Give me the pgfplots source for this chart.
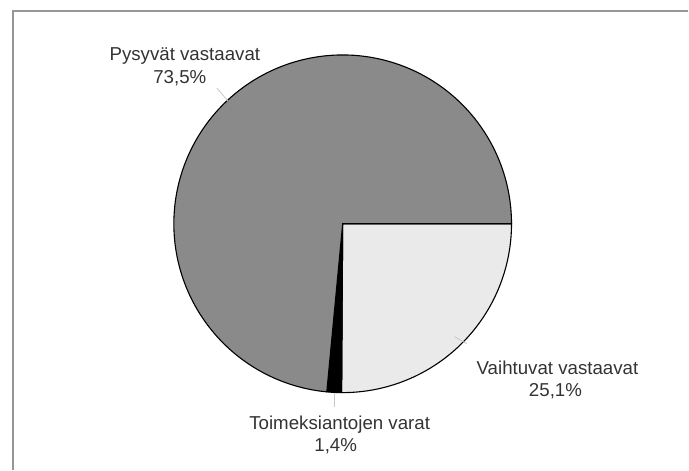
\documentclass[border=0pt]{standalone}
\usepackage{pgfplots}
\pgfplotsset{compat=1.18}
\usepackage{fontspec}
\setmainfont{Liberation Sans}
\definecolor{darkslice}{RGB}{138,138,138}
\definecolor{lightslice}{RGB}{234,234,234}
\definecolor{framec}{RGB}{150,150,150}
\definecolor{leader}{RGB}{200,200,200}
\tikzset{lbl/.style={anchor=base, text=black!80, inner sep=0pt, font=\fontsize{18.7bp}{22.5bp}\selectfont}}
% data (percent)
\def\vVaihtuvat{25.1}
\def\vToimeksianto{1.4}
\def\vPysyvat{73.5}
\begin{document}
\begin{tikzpicture}
\pgfmathsetmacro{\aA}{0}
\pgfmathsetmacro{\aB}{\aA-3.6*\vVaihtuvat}
\pgfmathsetmacro{\aC}{\aB-3.6*\vToimeksianto}
\pgfmathsetmacro{\aD}{\aC-3.6*\vPysyvat}
\begin{axis}[
  scale only axis, width=689bp, height=470bp,
  xmin=0, xmax=689, ymin=0, ymax=470,
  hide axis, clip=false,
]
\path (axis cs:0,0) rectangle (axis cs:689,470);
\draw[framec, line width=1.3bp] (axis cs:13,0) -- (axis cs:13,459) -- (axis cs:689,459);
% slices
\addplot[fill=lightslice, draw=black, line width=1.1bp, domain=\aA:\aB, samples=80, variable=\t]
  ({343+169*cos(\t)},{246+169*sin(\t)}) -- (axis cs:343,246) -- cycle;
\addplot[fill=black, draw=black, line width=1.1bp, domain=\aB:\aC, samples=10, variable=\t]
  ({343+169*cos(\t)},{246+169*sin(\t)}) -- (axis cs:343,246) -- cycle;
\addplot[fill=darkslice, draw=black, line width=1.1bp, domain=\aC:\aD, samples=200, variable=\t]
  ({343+169*cos(\t)},{246+169*sin(\t)}) -- (axis cs:343,246) -- cycle;
% leader lines
\draw[leader, line width=0.8bp] (axis cs:217,382) -- (axis cs:228,369);
\draw[leader, line width=0.8bp] (axis cs:335,77) -- (axis cs:335,63);
\draw[leader, line width=0.8bp] (axis cs:455,133) -- (axis cs:467,126);
% labels
\node[lbl] at (axis cs:185,409) {Pysyvät vastaavat};
\node[lbl] at (axis cs:180,386) {73,5\%};
\node[lbl] at (axis cs:558,95) {Vaihtuvat vastaavat};
\node[lbl] at (axis cs:556,73) {25,1\%};
\node[lbl] at (axis cs:340,40) {Toimeksiantojen varat};
\node[lbl] at (axis cs:336,18) {1,4\%};
\end{axis}
\end{tikzpicture}
\end{document}
